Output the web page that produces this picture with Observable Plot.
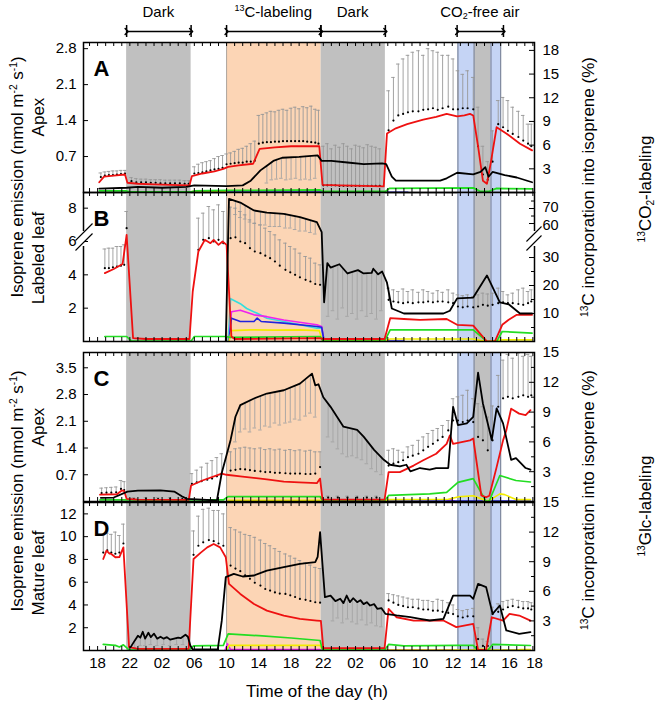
<!DOCTYPE html>
<html><head><meta charset="utf-8">
<script src="https://cdn.jsdelivr.net/npm/d3@7"></script>
<script src="https://cdn.jsdelivr.net/npm/@observablehq/plot@0.6"></script>
<style>
body{margin:0;background:#fff;font-family:"Liberation Sans",Arial,sans-serif;color:#000}
#root{position:relative;width:661px;height:706px;overflow:hidden;background:#fff}
sup{font-size:60%;line-height:0;vertical-align:0.6em}
sub{font-size:60%;line-height:0;vertical-align:-0.3em}
</style></head><body><div id="root"></div>
<script>
// ---------- axis / layout data ----------
const Xdom = [-1.75, 54.2];
const xTickPos = [0,4,8,12,16,20,24,28,32,36,40,44.1,47.2,51.1,54.2];
const xTickLab = ["18","22","02","06","10","14","18","22","02","06","10","12","14","16","18"];
const darkSpans = [[3.6,11.6],[27.7,35.7],[46.7,48.8]];
const labelSpan = [[16.0,27.7]];
const co2Spans = [[44.7,46.7],[48.8,50.0]];
const annot = [[3.6,11.6,"Dark"],[16.0,27.7,"<sup>13</sup>C-labeling"],[27.7,35.7,"Dark"],[44.6,50.35,"CO<sub>2</sub>-free air"]];

// ---------- Panel A (13CO2, apex) ----------
const redA = [[0.2,0.2],[0.8,0.31],[2,0.33],[3.4,0.35],[3.7,0.19],[5,0.17],[7,0.16],[9,0.15],[11.4,0.14],[11.7,0.32],[13,0.37],[14.5,0.41],[15.6,0.46],[16.2,0.5],[17.5,0.53],[19.3,0.56],[20.1,0.85],[22,0.88],[24,0.9],[26,0.9],[27.5,0.9],[27.9,0.15],[30,0.14],[33,0.13],[35.5,0.12],[35.9,1.15],[37,1.25],[38.4,1.33],[40.4,1.42],[42,1.47],[43.3,1.53],[44.6,1.48],[45.5,1.5],[46.2,1.53],[46.6,1.5],[47.2,0.9],[47.8,0.23],[48.3,0.17],[48.8,0.6],[49.5,1.27],[50.7,1.15],[52.4,0.95],[53.9,0.82]];
const blackA = [[0.2,0.5],[3.6,0.6],[5,0.7],[8,0.6],[11,0.7],[12,0.9],[16,0.8],[18,0.9],[19,1.5],[20.2,2.8],[21,3.4],[21.8,4.0],[22.9,4.4],[25,4.5],[27.3,4.7],[27.8,4.0],[29,4.0],[31,3.8],[33,3.6],[35.3,3.7],[35.8,3.6],[36.5,2.0],[37,1.5],[40,1.5],[42.5,1.5],[43.3,1.8],[44.6,2.5],[46.6,2.3],[47.5,2.6],[48.1,3.2],[48.5,2.0],[49,2.6],[50.5,2.2],[52,1.9],[53.9,1.3]];
const greenA = [[0.2,0.03],[3.6,0.03],[4,0.015],[11.6,0.015],[12,0.03],[16,0.04],[27.6,0.05],[28,0.02],[35.7,0.02],[36.2,0.08],[46.6,0.09],[47.5,0.02],[48.5,0.02],[49.5,0.08],[53.9,0.07]];
const yellowA = [[11.7,0.02],[16,0.02]];
const blueA = [[16,0.01],[27.7,0.01],[28,0.005],[38.5,0.005]];
const totA = [[0.4,0.3,0.38],[0.9,0.33,0.4],[1.4,0.34,0.41],[1.9,0.34,0.42],[2.4,0.35,0.42],[2.9,0.36,0.43],[3.4,0.37,0.43],
[4.2,0.22,0.29],[4.8,0.2,0.27],[5.4,0.2,0.26],[6,0.2,0.26],[6.6,0.19,0.25],[7.2,0.19,0.25],[7.8,0.18,0.25],[8.4,0.18,0.24],[9,0.18,0.24],[9.6,0.18,0.24],[10.2,0.18,0.24],[10.8,0.17,0.23],[11.3,0.17,0.23],
[12,0.37,0.5],[12.5,0.38,0.55],[13,0.39,0.58],[13.5,0.41,0.6],[14,0.43,0.62],[14.5,0.45,0.66],[15,0.46,0.7],[15.5,0.48,0.72],
[16,0.55,0.75],[16.5,0.56,0.77],[17,0.57,0.8],[17.5,0.58,0.84],[18,0.58,0.86],[18.5,0.6,0.9],[19,0.6,0.95],[19.5,0.62,1.0],
[20,0.95,1.5],[20.5,0.97,1.52],[21,0.98,1.55],[21.5,0.98,1.58],[22,0.99,1.57],[22.5,0.99,1.6],[23,1.0,1.62],[23.5,1.0,1.6],[24,1.0,1.64],[24.5,1.0,1.66],[25,1.0,1.63],[25.5,1.0,1.67],[26,0.99,1.65],[26.5,0.98,1.68],[27,0.97,1.62],[27.4,0.95,1.6],
[28,0.14,0.9],[28.5,0.14,0.95],[29,0.14,0.85],[29.5,0.14,0.92],[30,0.13,0.88],[30.5,0.13,0.95],[31,0.13,0.9],[31.5,0.13,0.85],[32,0.13,0.92],[32.5,0.13,0.9],[33,0.13,0.87],[33.5,0.13,0.93],[34,0.13,0.9],[34.5,0.13,0.88],[35,0.13,0.85],
[36.1,1.21,1.98],[36.7,1.4,2.24],[37.3,1.5,2.5],[37.9,1.53,2.6],[38.5,1.56,2.67],[39.1,1.58,2.73],[39.8,1.58,2.76],[40.4,1.61,2.67],[41.0,1.62,2.8],[41.6,1.64,2.76],[42.2,1.61,2.73],[42.8,1.64,2.67],[43.5,1.67,2.67],[44.1,1.62,2.6],[44.7,1.62,2.37],[45.3,1.64,2.3],[45.9,1.64,2.37],[46.6,1.62,2.24],[47.2,0.9,1.66],[47.8,0.35,0.9],[48.4,0.25,0.6],[49.0,0.6,1.2],[49.7,1.33,1.79],[50.3,1.27,1.85],[50.9,1.2,1.79],[51.5,1.14,1.66],[52.2,1.08,1.58],[52.8,1.01,1.5],[53.4,0.95,1.33],[53.8,0.9,1.33]];
const blkErrA = [[21,3.4,1.2],[21.6,3.9,1.6],[22.2,4.2,1.7],[22.8,4.4,1.8],[23.4,4.4,1.6],[24,4.5,1.7],[24.6,4.5,1.8],[25.2,4.5,1.6],[25.8,4.6,1.7],[26.4,4.6,1.6],[27,4.7,1.8]];

// ---------- Panel B (13CO2, labeled leaf) ----------
const redB = [[0.9,4.1],[2,4.35],[3.1,4.65],[3.6,6.4],[4.4,0.2],[6,0.15],[11.4,0.15],[11.8,3],[12.5,5.4],[13.3,6.1],[14,5.9],[14.4,6.1],[15,5.8],[15.5,6.0],[16,5.8],[16.6,0.3],[17,0.15],[27.5,0.2],[28,0.15],[35.6,0.15],[36.3,1.4],[38,1.35],[40,1.3],[43.3,1.35],[44.6,1.0],[46.6,0.95],[48.3,0.0],[49.3,0.02],[50.2,1.0],[51,1.3],[52,1.6],[53.9,1.6]];
const blackB = [[15.9,0],[16.3,76.5],[17.7,74],[19.4,68.7],[21,67.3],[23.1,66.5],[25.1,64.2],[27.2,60.9],[27.8,54.2],[28.1,14],[28.5,28],[28.9,26.4],[30,27.6],[31,24.3],[32.3,25.5],[33,24.3],[34,24.5],[34.2,26],[34.8,24],[35.3,25],[35.9,21],[36.5,11.8],[38,10],[42.9,10],[43.7,11],[44.6,15.4],[46.6,15.7],[48.3,23.6],[49.9,14],[51,13.3],[52.4,10],[53.9,10]];
const greenB = [[0.9,0.3],[3.6,0.3],[4.2,0.02],[11.6,0.02],[12,0.3],[16,0.3],[16.4,0.25],[27.6,0.3],[28,0.02],[35.6,0.02],[36.3,0.7],[46.6,0.7],[48.3,0.0],[49.5,0.0],[50.2,0.6],[53.9,0.5]];
const yellowB = [[16.3,0.0],[16.6,0.65],[19,0.7],[22,0.68],[25,0.7],[27.5,0.65],[27.9,0.05],[35.6,0.05],[36.3,0.15],[46.6,0.15],[48.3,0.0],[50.2,0.1],[53.9,0.1]];
const blueB = [[16.3,0],[16.6,1.4],[17.7,1.2],[19.4,1.2],[19.8,1.4],[20.3,1.2],[23.1,1.1],[27.2,0.9],[27.8,0.85],[28.1,0.02],[38,0.02]];
const magentaB = [[16.3,0],[16.6,1.78],[17.7,1.88],[19.4,1.6],[21,1.49],[23.1,1.29],[27.2,1.0],[27.8,0.9],[28.1,0]];
const cyanB = [[16.2,0],[16.5,2.57],[17.7,2.27],[18.5,1.98],[19.8,1.69],[21,1.39],[23.1,1.2],[25.1,1.0],[27.2,0.8],[27.8,0.8],[28.1,0]];
const totB = [[0.9,4.4,5.55],[1.4,4.4,5.6],[1.9,4.45,5.6],[2.4,4.5,5.7],[2.9,4.55,5.7],[3.3,4.6,5.8],[3.6,6.8,7.8],
[12.5,5.5,7.4],[13.1,6.1,7.7],[13.8,6.2,8.1],[14.4,6.0,7.9],[15.0,6.1,8.2],[15.6,5.9,7.8],
[16.5,6.2,8.06],[17.1,6.25,8.0],[17.7,6.0,7.8],[18.3,5.9,7.6],[18.9,5.6,7.3],[19.5,5.4,7.1],[20.2,5.3,7.0],[20.8,5.15,6.8],[21.4,5.0,6.6],[22.0,4.8,6.4],[22.6,4.55,6.1],[23.3,4.3,5.9],[23.9,4.15,5.7],[24.5,4.0,5.55],[25.1,3.85,5.3],[25.8,3.7,5.1],[26.4,3.6,5.0],[27.0,3.45,4.7],[27.6,3.4,4.6],
[36.1,2.5,3.2],[36.7,2.4,3.1],[37.3,2.35,3.0],[37.9,2.3,3.15],[38.5,2.35,3.0],[39.1,2.3,3.1],[39.8,2.35,2.95],[40.4,2.35,3.1],[41.0,2.4,3.0],[41.6,2.35,2.9],[42.2,2.4,3.05],[42.8,2.4,2.95],[43.5,2.35,3.1],[44.1,2.3,2.9],[44.7,2.1,2.8],[45.3,2.05,2.75],[45.9,2.1,2.8],[46.6,2.05,2.7],[47.2,2.1,2.8],[47.8,2.2,2.9],[48.4,2.15,2.85],[49.0,2.2,2.9],[49.7,2.3,3.2],[50.3,2.35,3.0],[50.9,2.3,2.8],[51.5,2.3,2.9],[52.2,2.25,3.1],[52.8,2.2,3.2],[53.4,2.3,3.0],[53.8,2.4,3.1]];
const blkErrB = [[17.1,75,66],[17.7,74,64],[18.3,72,63],[18.9,70,61],[19.5,68.6,60],[20.2,68,59],[20.8,67.4,59],[21.4,67.2,58],[22,67,58],[22.6,66.8,58],[23.3,66.5,57],[23.9,65.6,57],[24.5,65,56],[25.1,64.2,55],[25.8,63,55],[26.4,62,54],[27.0,61,53],
[28.6,26,9],[29.2,27,11],[29.8,27,8],[30.4,26,12],[31,24,9],[31.6,25,10],[32.2,25,8],[32.8,24,11],[33.4,24,9],[34,25,10],[34.6,25,8],[35.2,25,11]];

// ---------- Panel C (13Glc, apex) ----------
const redC = [[0.3,0.18],[2.4,0.19],[3.0,0.29],[3.3,0.27],[3.6,0.07],[5,0.05],[11.3,0.04],[11.6,0.42],[13,0.55],[15.4,0.73],[16.0,0.7],[17.7,0.66],[21,0.58],[23.1,0.52],[25,0.5],[27.2,0.48],[27.6,0.6],[27.9,0.05],[35.6,0.05],[36.1,0.77],[37.5,0.77],[39.2,0.94],[40.4,1.08],[42,1.25],[43.3,1.51],[43.7,1.73],[44.1,1.51],[46.2,1.6],[46.6,1.65],[47.6,0.16],[48.2,0.11],[48.6,0.15],[49.5,0.9],[50.3,1.6],[50.7,1.86],[51.3,2.43],[52.3,2.3],[53.1,2.26],[53.7,2.39]];
const blackC = [[0.4,0.37],[2,0.4],[3.7,1.0],[5,1.1],[7.8,1.13],[9.5,1.0],[10.5,0.5],[11.1,0.27],[14.8,0.1],[15.4,2.87],[16.5,6.2],[17.1,8.53],[17.7,9.7],[19.4,10.37],[21,10.87],[23.1,11.2],[25.1,11.87],[26.6,12.87],[27.0,11.7],[27.4,11.8],[28,10.5],[28.9,9.53],[29.7,8.53],[30.5,7.53],[32.2,7.2],[33,6.53],[34.3,5.2],[35.5,4.2],[36.3,3.7],[37.5,3.53],[38.3,3.7],[38.8,3.03],[40,3.37],[41.2,3.2],[42,3.37],[43.5,3.37],[44.1,9.53],[44.7,7.7],[45.8,7.87],[46.6,8.53],[47.2,12.97],[47.8,9.87],[48.9,6.2],[49.5,9.37],[50.3,7.87],[51.3,4.2],[51.9,4.37],[53.1,3.37],[53.7,3.2]];
const greenC = [[0.3,0.04],[15.6,0.04],[16.2,0.13],[27.6,0.13],[27.9,0.02],[35.6,0.02],[36.1,0.16],[41.2,0.2],[43.3,0.24],[44.7,0.5],[46.6,0.6],[48.2,0.0],[48.6,0.02],[49.9,0.68],[51.9,0.55],[53.7,0.51]];
const yellowC = [[16.2,0.03],[27.6,0.03],[35.7,0.02],[36.1,0.05],[43.5,0.06],[44.7,0.12],[46.6,0.15],[48.2,0.02],[48.6,0.03],[49.9,0.2],[50.5,0.18],[51.9,0.05],[53.7,0.05]];
const magentaC = [[43.3,0.0],[43.8,0.05],[44.3,0.0]];
const blueC = [[35.7,0.01],[53.7,0.01]];
const totC = [[0.5,0.22,0.35],[1.1,0.23,0.36],[1.7,0.23,0.37],[2.3,0.24,0.38],[2.9,0.33,0.55],[3.3,0.3,0.52],
[4.5,0.06,0.1],[6,0.06,0.1],[7.5,0.06,0.1],[9,0.06,0.1],[10.5,0.06,0.1],
[11.7,0.46,0.73],[12.3,0.5,0.82],[12.9,0.53,0.9],[13.6,0.57,1.0],[14.2,0.6,1.07],[14.8,0.66,1.15],[15.4,0.74,1.25],
[16.5,0.81,1.3],[17.1,0.83,1.38],[17.7,0.85,1.4],[18.3,0.84,1.42],[18.9,0.82,1.4],[19.5,0.8,1.38],[20.2,0.79,1.4],[20.8,0.77,1.36],[21.4,0.77,1.38],[22.0,0.75,1.35],[22.6,0.75,1.37],[23.3,0.74,1.34],[23.9,0.73,1.36],[24.5,0.73,1.33],[25.1,0.73,1.35],[25.8,0.72,1.32],[26.4,0.72,1.34],[27.0,0.73,1.3],[27.6,0.9,1.3],
[28.6,0.1,0.14],[29.8,0.1,0.14],[31,0.1,0.14],[32.2,0.1,0.14],[33.4,0.1,0.14],[34.6,0.1,0.14],
[36.1,0.94,1.34],[36.7,0.99,1.38],[37.3,1.03,1.34],[37.9,1.08,1.29],[38.5,1.16,1.43],[39.1,1.2,1.47],[39.8,1.25,1.6],[40.4,1.34,1.69],[41.0,1.43,1.78],[41.6,1.51,1.86],[42.2,1.6,1.91],[42.8,1.69,1.99],[43.5,1.86,2.12],[44.1,2.12,2.69],[44.7,2.12,2.74],[45.3,2.08,2.78],[45.9,2.12,2.91],[46.6,2.08,2.69],[47.2,1.69,2.56],[47.8,1.6,2.48],[48.4,1.34,2.21],[49.0,1.6,2.5],[49.7,2.48,3.3],[50.3,2.7,3.7],[50.9,2.74,3.85],[51.5,2.7,3.75],[52.2,2.74,3.88],[52.8,2.78,3.8],[53.4,2.74,3.85],[53.8,2.78,3.8]];
const blkErrC = [[17.1,8.5,6.0],[17.7,9.7,7.0],[18.3,10.0,7.3],[18.9,10.2,7.0],[19.5,10.4,7.4],[20.2,10.6,7.2],[20.8,10.8,7.6],[21.4,10.9,7.5],[22.0,11.0,7.9],[22.6,11.1,7.7],[23.3,11.2,7.9],[23.9,11.5,8.0],[24.5,11.6,8.3],[25.1,11.9,8.2],[25.8,12.2,8.6],[26.4,12.6,8.9],[27.0,11.8,8.5],
[28.6,9.8,6.5],[29.2,9.0,6.0],[29.8,8.4,5.3],[30.4,7.6,4.8],[31.0,7.4,4.5],[31.6,7.3,4.6],[32.2,7.2,4.4],[32.8,6.7,4.2],[33.4,6.2,3.8],[34.0,5.5,3.3],[34.6,5.0,3.0],[35.2,4.5,2.7]];

// ---------- Panel D (13Glc, mature leaf) ----------
const redD = [[0.7,8.04],[1.1,8.77],[1.5,8.5],[1.7,8.48],[2.2,8.19],[2.7,8.2],[3.2,9.06],[3.9,0.29],[5,0.15],[11.3,0.15],[11.9,8.04],[12.8,8.6],[13.6,9.06],[14.4,9.36],[15.2,9.06],[15.9,8.19],[16.3,5.85],[17.7,4.97],[19.4,4.09],[21,3.5],[23.1,3.07],[25.1,2.78],[27.2,2.63],[27.7,2.6],[28.0,0.2],[35.6,0.2],[36.1,3.65],[37.1,2.92],[39.2,2.63],[42.9,2.63],[44.5,2.05],[46.6,2.34],[47.2,0.06],[48.2,0.06],[48.9,2.92],[50.3,2.63],[51.1,3.22],[52.3,3.07],[53.7,2.63]];
const blackD = [[4.1,0.34],[4.6,1.0],[5.0,1.5],[5.3,1.3],[5.6,1.9],[5.9,1.2],[6.3,1.8],[6.6,1.35],[7.0,1.7],[7.4,1.2],[7.8,1.4],[8.2,1.2],[8.6,1.35],[9.0,1.1],[9.5,1.2],[10.0,1.3],[10.3,1.25],[10.9,1.6],[11.2,1.4],[11.5,0.5],[11.8,0.1],[14.9,0.1],[15.4,3],[15.9,7.43],[16.9,7.77],[18,7.5],[19.4,7.6],[21,8.1],[23.1,8.44],[25.1,8.78],[27,8.95],[27.3,9.5],[27.6,12],[28.2,5.4],[28.9,5.57],[29.5,5.0],[30.1,5.24],[30.5,4.8],[30.9,5.57],[31.3,4.9],[31.7,5.3],[32.2,4.9],[32.6,5.1],[33.0,4.7],[33.4,4.9],[33.8,4.56],[34.3,4.7],[34.7,4.22],[35.2,4.3],[35.7,3.72],[37.1,3.55],[38.8,3.38],[40,3.2],[41.2,3.04],[42.9,3.21],[44.1,5.57],[46.2,5.57],[46.6,5.24],[47.2,6.75],[48.2,6.42],[49.0,3.72],[49.9,4.56],[50.7,2.03],[52.3,1.69],[53.7,1.86]];
const greenD = [[0.7,0.53],[2.2,0.45],[2.7,0.3],[3.2,0.5],[3.9,0.06],[11.3,0.03],[11.9,0.4],[15.6,0.45],[16.2,1.46],[20,1.3],[24,1.1],[27.6,0.88],[27.9,0.03],[35.6,0.03],[36.1,0.53],[38,0.4],[44.5,0.45],[46.6,0.45],[47.2,0.02],[48.4,0.02],[49,0.53],[53.7,0.44]];
const yellowD = [[16.0,0.0],[16.3,0.45],[27.6,0.45],[27.9,0.03],[46.7,0.03],[47,0.1],[48.5,0.1],[48.8,0.03],[52,0.03],[52.5,0.08],[53.7,0.08]];
const magentaD = [[15.8,0],[16.1,0.6],[16.5,0.08],[27.6,0.08],[27.9,0.02],[36,0.05],[44,0.05]];
const cyanD = [[15.9,0],[16.05,0.3],[16.3,0]];
const blueD = [[50.3,0.04],[52,0.04]];
const totD = [[0.7,8.6,10.1],[1.2,8.8,10.3],[1.7,8.6,10.2],[2.2,8.5,10.4],[2.7,8.6,10.1],[3.2,9.4,11.1],
[11.9,8.4,10.5],[12.5,9.2,11.8],[13.1,9.5,12.4],[13.8,9.7,12.5],[14.4,9.6,12.3],[15.0,9.4,12.3],[15.6,9.2,12.0],
[16.5,7.46,10.8],[17.1,7.2,10.6],[17.7,6.97,10.4],[18.3,6.6,10.2],[18.9,6.3,10.1],[19.5,5.95,9.94],[20.2,5.7,9.7],[20.8,5.4,9.4],[21.4,5.26,9.2],[22.0,5.1,8.95],[22.6,5.0,8.7],[23.3,4.97,8.48],[23.9,4.85,8.3],[24.5,4.7,8.1],[25.1,4.53,7.9],[25.8,4.45,7.7],[26.4,4.35,7.5],[27.0,4.24,7.3],[27.6,4.2,7.2],
[36.1,4.4,5.0],[36.7,4.2,4.9],[37.3,4.0,4.8],[37.9,3.9,4.7],[38.5,3.8,4.6],[39.1,3.8,4.5],[39.8,3.7,4.5],[40.4,3.6,4.4],[41.0,3.6,4.4],[41.6,3.5,4.3],[42.2,3.5,4.5],[42.8,3.4,4.4],[43.5,3.3,4.2],[44.1,3.2,4.0],[44.7,3.0,3.6],[45.3,2.9,3.5],[45.9,3.0,3.6],[46.6,3.0,3.7],[47.2,1.0,2.0],[47.8,0.4,1.0],[48.4,0.4,0.8],[49.0,3.2,3.8],[49.7,3.4,4.1],[50.3,3.6,4.3],[50.9,3.8,4.4],[51.5,3.9,4.5],[52.2,3.8,4.4],[52.8,3.7,4.3],[53.4,3.7,4.3],[53.8,3.6,4.2]];
const blkErrD = [[4.6,1.0,0.3],[5.3,1.3,0.5],[5.9,1.2,0.5],[6.6,1.35,0.6],[7.4,1.2,0.5],[8.2,1.2,0.6],[9.0,1.1,0.5],[9.8,1.25,0.6],[10.6,1.3,0.6],
[29.2,5.3,3.0],[29.8,5.2,3.3],[30.4,5.0,2.8],[31.0,5.4,3.2],[31.6,5.1,2.9],[32.2,4.9,2.7],[32.8,5.0,3.1],[33.4,4.9,2.6],[34.0,4.6,2.8],[34.6,4.3,2.5],[35.2,4.3,2.4]];

// ---------- axis tick values ----------
const leftTicksA = [0.7,1.4,2.1,2.8], rightTicksA = [3,6,9,12,15,18];
const leftTicksB = [2,4,6,8], rightTicksB = [10,20,30,60,70], rightMinorB = [5,15,25,65,75];
const leftTicksC = [0.7,1.4,2.1,2.8,3.5], rightTicksC = [3,6,9,12,15];
const leftTicksD = [2,4,6,8,10,12], rightTicksD = [3,6,9,12,15];
const minorCD = [1.5,4.5,7.5,10.5,13.5];

// ---------- rendering ----------
const W = 661, ML = 83, MR = 127, innerW = W - ML - MR;
const FONT = '"Liberation Sans", Arial, sans-serif';
const root = document.getElementById("root");
const minorX = d3.range(-1, 55, 1);
const edgeLines = [44.7,46.7,48.8,50.0];

function convB(r) { // broken right axis of panel B -> left units
  const p = r <= 35 ? 341 - 2.8 * r : 223 - (r - 60) * 1.5;
  return (341 - p) / 16.67;
}

const panels = [
  {id:"A", top:42, h:150, ydom:[0,2.92], lt:leftTicksA, rt:rightTicksA, rm:[], conv:r=>r*2.92/19,
   red:redA, black:blackA, green:greenA, yellow:yellowA, blue:blueA, magenta:[], cyan:[], tot:totA, be:blkErrA},
  {id:"B", top:192, h:149, ydom:[0,8.94], lt:leftTicksB, rt:rightTicksB, rm:rightMinorB, conv:convB,
   red:redB, black:blackB, green:greenB, yellow:yellowB, blue:blueB, magenta:magentaB, cyan:cyanB, tot:totB, be:blkErrB, brk:true},
  {id:"C", top:352, h:149, ydom:[0,3.9], lt:leftTicksC, rt:rightTicksC, rm:minorCD, conv:r=>r*3.9/15,
   red:redC, black:blackC, green:greenC, yellow:yellowC, blue:blueC, magenta:magentaC, cyan:[], tot:totC, be:blkErrC},
  {id:"D", top:502, h:148, ydom:[0,13], lt:leftTicksD, rt:rightTicksD, rm:minorCD, conv:r=>r*13/15,
   red:redD, black:blackD, green:greenD, yellow:yellowD, blue:blueD, magenta:magentaD, cyan:cyanD, tot:totD, be:blkErrD, last:true}
];

function place(el, top) {
  el.style.position = "absolute"; el.style.left = "0px"; el.style.top = top + "px";
  root.appendChild(el);
}

panels.forEach(p => {
  const pad = 3, mb = p.last ? 36 : pad;
  const conv = p.conv, cw = 0.22;
  const ln = (data, stroke, w, c) => Plot.line(data, {x: d => d[0], y: d => c ? conv(d[1]) : d[1], stroke, strokeWidth: w, strokeLinejoin: "round", clip: true});
  // right tick labels; in the broken panel B the two upper labels are nudged apart slightly
  const rtLow = p.brk ? p.rt.filter(v => v < 50) : p.rt;
  const marks = [
    Plot.rect(darkSpans, {x1: d => d[0], x2: d => d[1], fill: "#c0c0c0"}),
    Plot.rect(labelSpan, {x1: d => d[0], x2: d => d[1], fill: "#fcd5b5"}),
    Plot.rect(co2Spans, {x1: d => d[0], x2: d => d[1], fill: "#c5d4f5"}),
    Plot.ruleX(edgeLines, {x: d => d, stroke: "#7d879e", strokeWidth: 1.2}),
    Plot.ruleX([16.0], {x: d => d, stroke: "#999", strokeWidth: 0.8}),
    Plot.ruleX(p.be, {x: d => d[0], y1: d => conv(d[1]), y2: d => conv(d[2]), stroke: "#a3a3a3", strokeWidth: 0.9}),
    Plot.ruleY(p.be, {y: d => conv(d[2]), x1: d => d[0] - cw, x2: d => d[0] + cw, stroke: "#a3a3a3", strokeWidth: 0.9}),
    Plot.ruleX(p.tot, {x: d => d[0], y1: d => d[1], y2: d => d[2], stroke: "#999", strokeWidth: 0.9}),
    Plot.ruleY(p.tot, {y: d => d[2], x1: d => d[0] - cw, x2: d => d[0] + cw, stroke: "#999", strokeWidth: 0.9}),
    Plot.dot(p.tot, {x: d => d[0], y: d => d[1], r: 1.1, fill: "#000", stroke: null}),
    ln(p.cyan, "#33dede", 1.6),
    ln(p.magenta, "#ee22ee", 1.6),
    ln(p.blue, "#2222dd", 1.6),
    ln(p.yellow, "#f2ec00", 1.6),
    ln(p.green, "#22dd22", 1.7),
    ln(p.red, "#ee1111", 1.8),
    ln(p.black, "#000", 1.8, true),
    Plot.tickX(minorX, {x: d => d, insetTop: p.h - 4, strokeWidth: 1}),
    Plot.tickX(minorX, {x: d => d, insetBottom: p.h - 4, strokeWidth: 1}),
    Plot.tickY(p.lt, {y: d => d, insetRight: innerW - 5, strokeWidth: 1}),
    Plot.tickY(p.rt.map(conv), {y: d => d, insetLeft: innerW - 5, strokeWidth: 1}),
    Plot.tickY(p.rm.map(conv), {y: d => d, insetLeft: innerW - 3, strokeWidth: 1}),
    Plot.text(p.lt, {y: d => d, frameAnchor: "left", text: d => String(d), textAnchor: "end", dx: -7, fontSize: 15}),
    Plot.text(rtLow, {y: d => conv(d), frameAnchor: "right", text: d => String(d), textAnchor: "start", dx: 8, fontSize: 15}),
    Plot.text([p.id], {frameAnchor: "top-left", text: d => d, textAnchor: "start", dx: 10, dy: 18, fontSize: 22, fontWeight: "bold"}),
    Plot.frame({stroke: "#000", strokeWidth: 1.5})
  ];
  if (p.brk) {
    marks.push(Plot.text([70], {y: d => conv(d), frameAnchor: "right", text: d => String(d), textAnchor: "start", dx: 8, dy: -1.5, fontSize: 14.5}));
    marks.push(Plot.text([60], {y: d => conv(d), frameAnchor: "right", text: d => String(d), textAnchor: "start", dx: 8, dy: 1.5, fontSize: 14.5}));
    // break gaps in the axis lines, then the "//" marks
    marks.push(Plot.ruleX([Xdom[0], Xdom[1]], {x: d => d, y1: 5.7, y2: 6.6, stroke: "#fff", strokeWidth: 3}));
    marks.push(Plot.link([[-2.74,5.46,-0.63,6.48],[-2.74,6.06,-0.63,7.08],[53.2,5.46,55.07,6.36],[53.2,6.0,55.07,6.9]],
      {x1: d => d[0], y1: d => d[1], x2: d => d[2], y2: d => d[3], stroke: "#000", strokeWidth: 1.1}));
  }
  if (p.last) {
    marks.push(Plot.text(xTickPos, {x: d => d, frameAnchor: "bottom", text: (d, i) => xTickLab[i], dy: 17, fontSize: 15}));
  }
  const svg = Plot.plot({
    width: W, height: p.h + pad + mb, marginLeft: ML, marginRight: MR, marginTop: pad, marginBottom: mb,
    x: {domain: Xdom, axis: null}, y: {domain: p.ydom, axis: null},
    style: {fontFamily: FONT, fontSize: "15px", background: "transparent", overflow: "visible"},
    marks
  });
  place(svg, p.top - pad);
});

// top annotation row (arrows)
const topPlot = Plot.plot({
  width: W, height: 42, marginLeft: ML, marginRight: MR, marginTop: 0, marginBottom: 0,
  x: {domain: Xdom, axis: null}, y: {domain: [0, 42], range: [0, 42], axis: null},
  style: {fontFamily: FONT, background: "transparent", overflow: "visible"},
  marks: [
    Plot.link(annot, {x1: d => d[0], x2: d => d[1], y1: 31, y2: 31, markerStart: "arrow", markerEnd: "arrow", strokeWidth: 1.5, stroke: "#000"}),
    Plot.ruleX(annot.flatMap(d => [d[0], d[1]]), {x: d => d, y1: 25, y2: 37, strokeWidth: 1.5, stroke: "#000"})
  ]
});
place(topPlot, 0);
const xs = topPlot.scale("x");

function addHTML(html, cx, cy, size, rot) {
  const d = document.createElement("div");
  d.innerHTML = html;
  d.style.cssText = `position:absolute;left:${cx}px;top:${cy}px;font-size:${size}px;white-space:nowrap;line-height:1.1;font-family:${FONT};transform:translate(-50%,-50%)${rot ? " rotate(-90deg)" : ""}`;
  root.appendChild(d);
}
annot.forEach(a => addHTML(a[2], xs.apply((a[0] + a[1]) / 2), 12, 15, false));

addHTML("Isoprene emission (nmol m<sup>-2</sup> s<sup>-1</sup>)", 18, 177, 17, true);
addHTML("Apex", 39, 117, 17, true);
addHTML("Labeled leaf", 39, 258, 17, true);
addHTML("Isoprene emission (nmol m<sup>-2</sup> s<sup>-1</sup>)", 18, 491, 17, true);
addHTML("Apex", 39, 427, 17, true);
addHTML("Mature leaf", 39, 573, 17, true);
addHTML("<sup>13</sup>C incorporation into isoprene (%)", 589, 187, 17, true);
addHTML("<sup>13</sup>C incorporation into isoprene (%)", 589, 500, 17, true);
addHTML("<sup>13</sup>CO<sub>2</sub>-labeling", 646, 189, 17, true);
addHTML("<sup>13</sup>Glc-labeling", 646, 506, 17, true);
addHTML("Time of the day (h)", 317, 692, 17, false);
</script></body></html>
